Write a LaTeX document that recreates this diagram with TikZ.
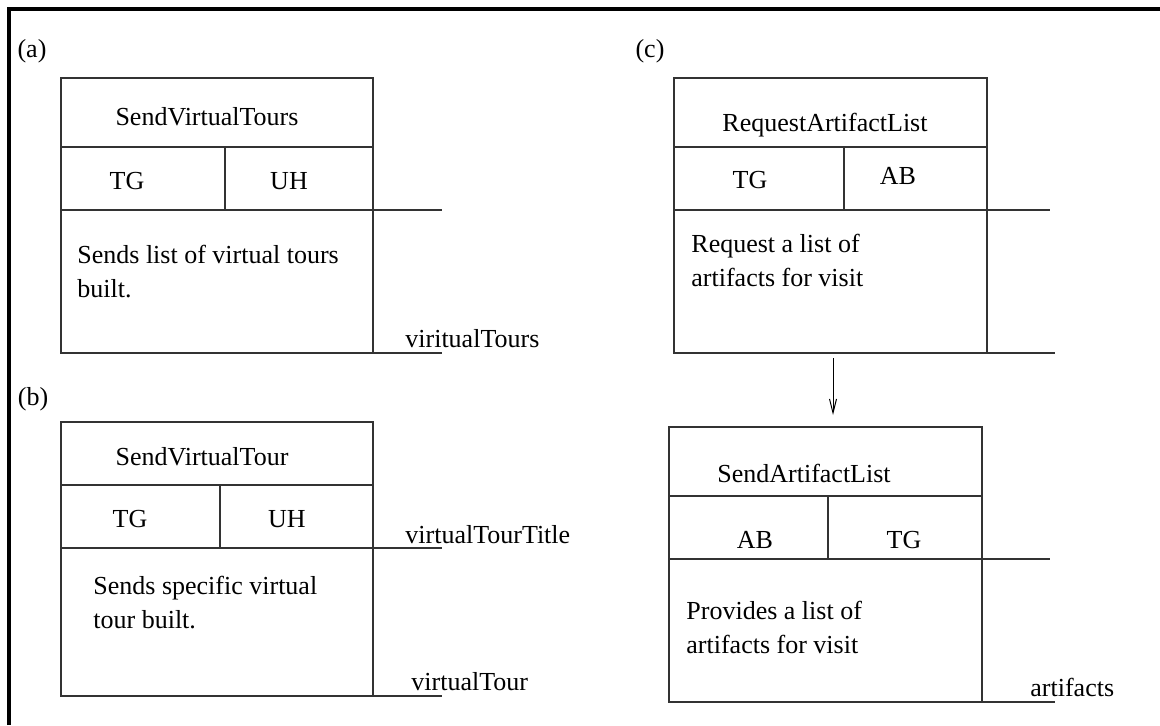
\documentclass[tikz,border=0pt]{standalone}
\usepackage{fontspec}
\setmainfont{Liberation Serif}
\usetikzlibrary{arrows.meta}

\begin{document}
\begin{tikzpicture}[x=0.5pt,y=-0.5pt,
  every node/.style={inner sep=0pt, font=\fontsize{13}{17}\selectfont},
  opline/.style={draw=black!80, line width=0.6pt},
  txt/.style={anchor=base},
  note/.style={anchor=base west, align=left}]
\useasboundingbox (0,0) rectangle (1160,725);
\draw[line width=2pt] (9,725) -- (9,9) -- (1160,9);

% (a)
\node[txt] (lbla) at (32,57) {(a)};
\draw[opline] (61,78) rectangle (373,353);
\draw[opline] (61,147) -- (373,147);
\draw[opline] (61,210) -- (442,210);
\draw[opline] (225,147) -- (225,210);
\draw[opline] (373,353) -- (442,353);
\node[txt] (toursname) at (207,125) {SendVirtualTours};
\node[txt] (toursfrom) at (127,189) {TG};
\node[txt] (toursto) at (289,189) {UH};
\node[note] (toursnote) at (77,297) {Sends list of virtual tours\\built.};
\node[note] (toursout) at (405,347) {viritualTours};

% (b)
\node[txt] (lblb) at (33,405) {(b)};
\draw[opline] (61,422) rectangle (373,696);
\draw[opline] (61,485) -- (373,485);
\draw[opline] (61,548) -- (442,548);
\draw[opline] (220,485) -- (220,548);
\draw[opline] (373,696) -- (442,696);
\node[txt] (tourname) at (202,465) {SendVirtualTour};
\node[txt] (tourfrom) at (130,527) {TG};
\node[txt] (tourto) at (287,527) {UH};
\node[note] (tournote) at (93,628) {Sends specific virtual\\tour built.};
\node[note] (tourin) at (405,543) {virtualTourTitle};
\node[note] (tourout) at (411,690) {virtualTour};

% (c)
\node[txt] (lblc) at (650,57) {(c)};
\draw[opline] (674,78) rectangle (987,353);
\draw[opline] (674,147) -- (987,147);
\draw[opline] (674,210) -- (1050,210);
\draw[opline] (844,147) -- (844,210);
\draw[opline] (987,353) -- (1055,353);
\node[txt] (reqname) at (825,131) {RequestArtifactList};
\node[txt] (reqfrom) at (750,188) {TG};
\node[txt] (reqto) at (898,184) {AB};
\node[note] (reqnote) at (691,286) {Request a list of\\artifacts for visit};

\draw[opline] (669,427) rectangle (982,702);
\draw[opline] (669,496) -- (982,496);
\draw[opline] (669,559) -- (1050,559);
\draw[opline] (828,496) -- (828,559);
\draw[opline] (982,702) -- (1055,702);
\node[txt] (listname) at (804,482) {SendArtifactList};
\node[txt] (listfrom) at (755,548) {AB};
\node[txt] (listto) at (904,548) {TG};
\node[note] (listnote) at (686,653) {Provides a list of\\artifacts for visit};
\node[note] (listout) at (1030,696) {artifacts};

\coordinate (reqend) at (833,358);
\coordinate (listtop) at (833,415);
\draw[-{Straight Barb[length=7pt,width=3.5pt]}, line width=0.5pt] (reqend) -- (listtop);
\end{tikzpicture}
\end{document}
